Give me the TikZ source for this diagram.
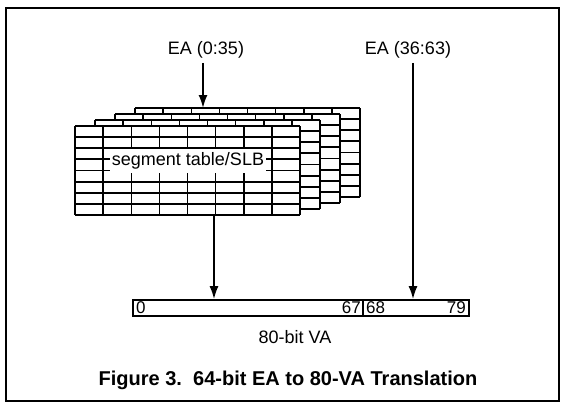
\documentclass[tikz,border=0pt]{standalone}
\usepackage{fontspec}
\setmainfont{Liberation Sans}
\usetikzlibrary{arrows.meta}
\begin{document}
\begin{tikzpicture}[x=1pt,y=-1pt,
  lbl/.style={inner sep=0pt, font=\fontsize{18}{20}\selectfont},
  num/.style={inner sep=0pt, font=\fontsize{17}{18}\selectfont},
  conn/.style={line width=1.8pt,-{Latex[length=13pt,width=9pt]}},
  gridline/.style={line width=1.5pt},
  frame/.style={line width=1.7pt}]
\useasboundingbox (0,0) rectangle (565,404);
\draw[frame] (6,8) rectangle (559,401);
% stacked tables
\foreach \k in {3,2,1,0} {
  \begin{scope}[shift={(20*\k,-6*\k)}]
    \fill[white] (75,126) rectangle (300,215);
    \foreach \i in {0,...,8} \draw[gridline] (75+28.125*\i,126) -- (75+28.125*\i,215);
    \foreach \j in {0,...,8} \draw[gridline, line width=1.9pt] (75,126+11.125*\j) -- (300,126+11.125*\j);
  \end{scope}
}
\node[lbl, fill=white, inner xsep=2pt, inner ysep=4pt] (seg) at (188,161) {segment table/SLB};
% labels
\node[lbl] (ea1) at (206,50) {EA (0:35)};
\node[lbl] (ea2) at (408,50) {EA (36:63)};
\coordinate (tabtop) at (203,108);
\coordinate (tabout) at (214,215);
\coordinate (rtop) at (413,63);
% VA box
\node[draw, frame, minimum width=336pt, minimum height=16pt, inner sep=0pt] (va) at (301,308) {};
\draw[frame] (363,300) -- (363,316);
\node[num, anchor=west] (n0) at (136,308) {0};
\node[num, anchor=east] (n67) at (361,308) {67};
\node[num, anchor=west] (n68) at (366,308) {68};
\node[num, anchor=east] (n79) at (466,308) {79};
\node[lbl] (vat) at (295,337) {80-bit VA};
\node[inner sep=0pt, font=\bfseries\fontsize{20}{24}\selectfont] (cap) at (288,380) {Figure 3.\ \ 64-bit EA to 80-VA Translation};
% connectors
\draw[conn] (203,63) -- (tabtop);
\draw[conn] (tabout) -- (tabout |- va.north);
\draw[conn] (rtop) -- (rtop |- va.north);
\end{tikzpicture}
\end{document}
